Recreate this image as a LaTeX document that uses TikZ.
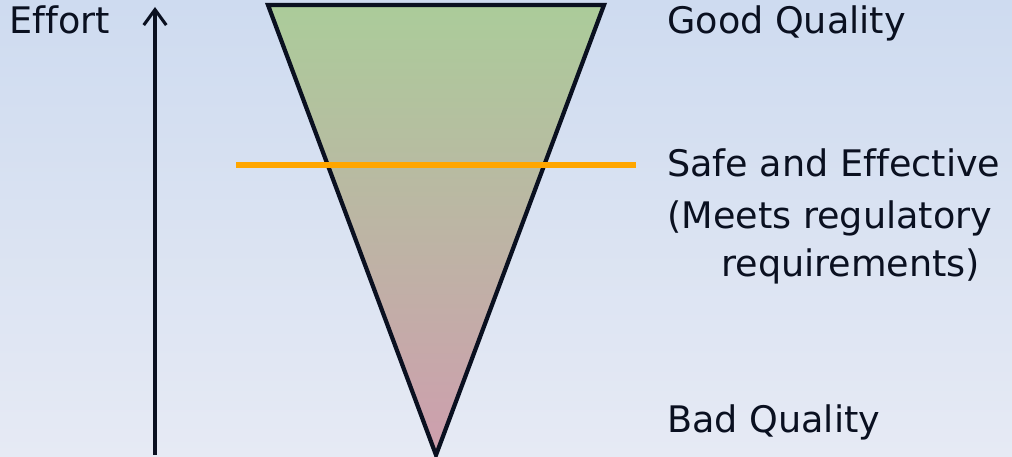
\documentclass[tikz,border=0pt]{standalone}
\usepackage{fontspec}
\setmainfont[Ligatures=NoCommon]{DejaVu Sans}
\usetikzlibrary{arrows.meta}
\definecolor{bgtop}{RGB}{206,219,240}
\definecolor{bgbot}{RGB}{230,234,244}
\definecolor{funtop}{RGB}{171,204,154}
\definecolor{funbot}{RGB}{206,158,174}
\definecolor{edge}{RGB}{10,16,32}
\definecolor{safe}{RGB}{255,166,0}
\tikzset{
  lbl/.style={anchor=base west, inner sep=0pt, text=edge, font=\fontsize{26}{31}\selectfont}
}
\begin{document}
\begin{tikzpicture}[x=0.025cm, y=-0.025cm]
	\shade[top color=bgtop, bottom color=bgbot] (0,0) rectangle (1012,457);
	\useasboundingbox (0,0) rectangle (1012,457);
	% the funnel
	\shade[top color=funtop, bottom color=funbot] (268,5) -- (604,5) -- (436,455) -- cycle;
	\draw[edge, line width=3pt, line join=miter] (268,5) -- (604,5) -- (436,455) -- cycle;
	\draw[safe, line width=3.6pt] (236,165) -- (636,165);
	% effort axis
	\coordinate (low) at (155,455);
	\coordinate (high) at (155,7);
	\draw[edge, line width=2.2pt, -{Straight Barb[length=11pt, width=16pt, line width=2.2pt]}] (low) -- (high);
	\node[lbl] (effort) at (9,34) {Effort};
	\node[lbl] (good) at (667,34) {Good Quality};
	\node[lbl] (safe) at (667,177) {Safe and Effective};
	\node[lbl] (meets) at (667,229) {(Meets regulatory};
	\node[lbl] (req) at (721,277) {requirements)};
	\node[lbl] (bad) at (667,433) {Bad Quality};
\end{tikzpicture}
\end{document}
